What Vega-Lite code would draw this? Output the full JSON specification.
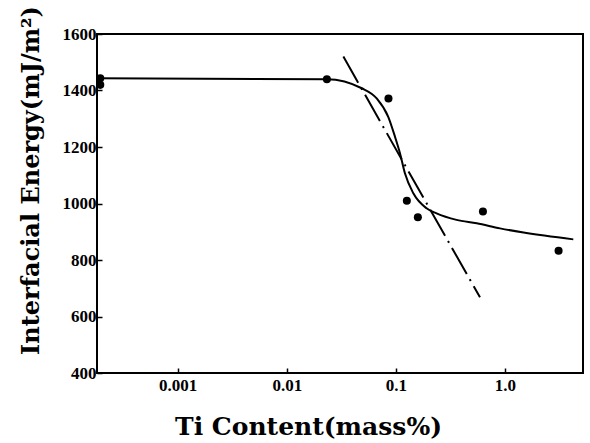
{
  "$schema": "https://vega.github.io/schema/vega-lite/v6.json",
  "width": 486,
  "height": 339,
  "autosize": {"type": "none"},
  "padding": {"left": 97, "top": 34, "right": 7, "bottom": 70},
  "background": "white",
  "config": {
    "view": {"stroke": "black", "strokeWidth": 2},
    "axis": {
      "grid": false,
      "domain": false,
      "tickColor": "black",
      "tickWidth": 1.5,
      "tickSize": -5,
      "labelFont": "Liberation Serif",
      "labelFontSize": 17,
      "labelFontWeight": "bold",
      "labelColor": "black",
      "titleFont": "DejaVu Serif",
      "titleFontWeight": "bold",
      "titleColor": "black"
    }
  },
  "layer": [
    {
      "data": {"values": [
        {"x": 0.000182, "y": 1443},
        {"x": 0.0233, "y": 1440},
        {"x": 0.0487, "y": 1408},
        {"x": 0.0667, "y": 1372},
        {"x": 0.0851, "y": 1307},
        {"x": 0.0982, "y": 1236},
        {"x": 0.109, "y": 1178},
        {"x": 0.121, "y": 1107},
        {"x": 0.1445, "y": 1036},
        {"x": 0.191, "y": 983},
        {"x": 0.236, "y": 965},
        {"x": 0.36, "y": 942},
        {"x": 0.551, "y": 930},
        {"x": 0.9, "y": 912},
        {"x": 1.48, "y": 897},
        {"x": 4.23, "y": 873}
      ]},
      "mark": {"type": "line", "color": "black", "strokeWidth": 2, "interpolate": "monotone"},
      "encoding": {
        "x": {
          "field": "x", "type": "quantitative",
          "scale": {"type": "log", "domain": [0.000182, 5.19], "nice": false},
          "axis": {
            "values": [0.001, 0.01, 0.1, 1],
            "labelExpr": "datum.value >= 1 ? '1.0' : toString(datum.value)",
            "labelPadding": 9,
            "title": "Ti Content(mass%)",
            "titleFontSize": 25,
            "titleAlign": "center",
            "titleBaseline": "middle",
            "titleX": 211,
            "titleY": 53
          }
        },
        "y": {
          "field": "y", "type": "quantitative",
          "scale": {"domain": [400, 1600], "nice": false},
          "axis": {
            "values": [400, 600, 800, 1000, 1200, 1400, 1600],
            "format": "d",
            "labelPadding": 6,
            "title": "Interfacial Energy(mJ/m²)",
            "titleFontSize": 24,
            "titleAngle": -90,
            "titleAlign": "center",
            "titleBaseline": "middle",
            "titleX": -66,
            "titleY": 146
          }
        }
      }
    },
    {
      "data": {"values": [
        {"x": 0.033, "y": 1520},
        {"x": 0.59, "y": 668}
      ]},
      "mark": {"type": "line", "color": "black", "strokeWidth": 2, "strokeDash": [30, 6, 2, 6]},
      "encoding": {
        "x": {"field": "x", "type": "quantitative"},
        "y": {"field": "y", "type": "quantitative"}
      }
    },
    {
      "data": {"values": [
        {"x": 0.000195, "y": 1443},
        {"x": 0.000195, "y": 1420},
        {"x": 0.0233, "y": 1440},
        {"x": 0.0855, "y": 1372},
        {"x": 0.126, "y": 1010},
        {"x": 0.159, "y": 951},
        {"x": 0.628, "y": 972},
        {"x": 3.1, "y": 833}
      ]},
      "mark": {"type": "point", "filled": true, "color": "black", "opacity": 1, "size": 65},
      "encoding": {
        "x": {"field": "x", "type": "quantitative"},
        "y": {"field": "y", "type": "quantitative"}
      }
    }
  ]
}
